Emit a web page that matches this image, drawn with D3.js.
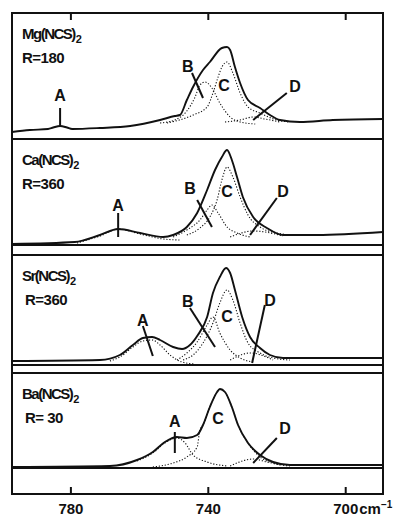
<!DOCTYPE html>
<html>
<head>
<meta charset="utf-8">
<script src="https://cdn.jsdelivr.net/npm/d3@7"></script>
<style>
  html, body { margin: 0; padding: 0; background: #fff; }
  svg { display: block; }
  text { font-family: "Liberation Sans", Arial, sans-serif; fill: #111; }
</style>
</head>
<body>
<svg id="chart" width="396" height="518"></svg>
<script>
// Wavenumber axis (cm^-1), reversed: high wavenumbers on the left
const axisTicks = [780, 740, 700];
const wnDomain = [797, 689];

// ---- Mg(NCS)2, R = 180 ----  [wavenumber, intensity]
const mgTotal = [[797,7],[791.8,9],[786.5,10],[785,11.5],[783,13],[781,11.5],[779.5,10],[771.4,11],[762.6,13],[753.9,19],[749.6,23],[748.1,24],[746.1,39],[744.3,52],[741.4,69],[739.4,77],[735.9,91],[734.4,92],[733.5,89],[732.1,72],[730.6,56],[728.3,39],[724.8,31],[721.9,24],[719,19],[713.2,17],[703.6,19],[689,20]];
const mgB = [[753.9,16],[749.6,19],[746.1,28],[743.7,42],[742.3,54],[740.8,57],[738.8,51],[736.5,36],[733.5,22],[730.6,17],[726.2,15]];
const mgC = [[751.9,16],[744.3,24],[740.2,32],[738.5,46],[737,62],[735.9,72],[734.4,77],[732.7,66],[730.6,46],[728.3,32],[724.8,26],[719.9,19],[716.1,17]];
const mgD = [[735,17],[730.6,19],[726.8,22],[723.4,20],[719,17]];

// ---- Ca(NCS)2, R = 360 ----
const caTotal = [[797,1],[778.7,3],[771.4,10],[766.1,16],[759.7,12],[753,8],[750.1,10],[746.1,18],[743.1,32],[740.2,55],[737.9,75],[735.9,88],[734.4,95],[733,85],[731.5,68],[729.8,48],[726.8,28],[722.8,17],[718.1,10],[708.2,10],[689,13]];
const caA = [[778.1,2],[771.4,9],[766.1,16],[759.7,11],[753,6],[748.1,5]];
const caB = [[750.1,8],[746.1,15],[742.3,25],[740.2,35],[738.8,40],[737,32],[734.4,18],[731.5,12],[727.7,8]];
const caC = [[746.1,10],[742.3,17],[739.4,28],[737.3,45],[735.9,65],[734.4,78],[732.7,68],[730.6,48],[728.3,30],[724.8,18],[719.9,12],[716.1,10]];
const caD = [[733.5,8],[726.8,14],[718.1,9]];

// ---- Sr(NCS)2, R = 360 ----
const srTotal = [[797,4],[771.4,5],[765.6,10],[761.8,20],[758.9,27],[756.2,28],[753.9,25],[750.1,18],[747.5,16],[745.2,20],[742.9,30],[740.2,48],[738.5,72],[736.5,88],[734.7,97],[733.5,92],[732.1,75],[730,48],[727.7,28],[724.8,17],[721.9,10],[718.1,7],[689,7]];
const srA = [[768.5,4],[765.6,8],[761.8,18],[758.9,24],[756.2,25],[753.9,20],[751,10],[747.5,3],[743.7,1]];
const srB = [[749,5],[746.1,12],[743.1,23],[740.2,40],[738.5,48],[736.5,32],[733.5,15],[730.6,7],[726.8,3]];
const srC = [[747.2,5],[744.3,10],[741.4,22],[738.5,42],[736.5,62],[734.4,75],[732.7,65],[730.6,42],[728.3,22],[724.8,12],[721,7],[716.1,5]];
const srD = [[733.5,5],[727.7,12],[721,5]];

// ---- Ba(NCS)2, R = 30 ----
const baTotal = [[797,1],[768.5,2],[760.6,8],[756,16],[752.5,26],[749,31],[746.1,30],[743.1,33],[741.4,43],[739.4,61],[737.3,76],[736.5,79],[735,76],[733,61],[731.2,43],[728.3,25],[724.8,13],[721,6],[716.1,3],[689,3]];
const baA = [[760.6,7],[756,15],[752.5,25],[749,30],[746.6,25],[744.3,13],[740.2,6],[734.4,2]];
const baC = [[756,1],[750.1,5],[746.1,11],[743.1,21],[742.3,38],[741.4,43],[739.4,61],[737.3,76],[736.5,79],[735,76],[733,61],[731.2,43],[728.3,25],[724.8,11],[721,5],[716.1,2]];
const baD = [[733.5,2],[726.8,9],[722.8,6],[719,3]];

// Band labels: [letter, label wn, label intensity, pointer wn1, int1, wn2, int2]
const mgLabels = [["A",783,42,783,31,783,13],["B",745.8,71,744.6,66,741.4,41],["C",735.3,52,null],["D",714.6,51,717,46,726.8,19]];
const caLabels = [["A",766.1,38,766.1,32,766.1,8],["B",745.2,55,743.1,45,738.8,18],["C",734.4,52,null],["D",718.1,52,719.9,47,727.7,10]];
const srLabels = [["A",758.9,43,758.9,39,756,9],["B",745.8,62,745.2,57,737.9,18],["C",734.4,47,null],["D",721.9,63,723.4,60,727.1,2]];
const baLabels = [["A",749.6,45,749.6,36,749.6,15],["C",737,48,null],["D",717.5,38,719.9,30,726.8,5]];

const panelNames = ["Mg(NCS)", "Ca(NCS)", "Sr(NCS)", "Ba(NCS)"];
const panelR = ["R=180", "R=360", "R=360", "R= 30"];

// ---------- layout ----------
const frameL = 12, frameR = 383, frameT = 13, frameB = 494;
const panels = [
  { top: 13,  zero: 139, total: mgTotal, comps: [mgB, mgC, mgD], labels: mgLabels },
  { top: 139, zero: 245, total: caTotal, comps: [caA, caB, caC, caD], labels: caLabels },
  { top: 255, zero: 365, total: srTotal, comps: [srA, srB, srC, srD], labels: srLabels },
  { top: 373, zero: 468, total: baTotal, comps: [baA, baC, baD], labels: baLabels }
];
const dividers = [139, 255, 373];

const svg = d3.select("#chart");
const x = d3.scaleLinear().domain(wnDomain).range([frameL, frameR]);

// frame
svg.append("rect").attr("x", frameL).attr("y", frameT)
  .attr("width", frameR - frameL).attr("height", frameB - frameT)
  .attr("fill", "none").attr("stroke", "#111").attr("stroke-width", 2);

dividers.forEach(d => svg.append("line")
  .attr("x1", frameL).attr("x2", frameR).attr("y1", d).attr("y2", d)
  .attr("stroke", "#111").attr("stroke-width", 2));

panels.forEach((p, i) => {
  const y = d3.scaleLinear().domain([0, 100]).range([p.zero, p.zero - 100]);
  const g = svg.append("g");
  const line = d3.line().x(d => x(d[0])).y(d => y(d[1])).curve(d3.curveMonotoneX);

  // zero line
  g.append("line").attr("x1", frameL).attr("x2", frameR)
    .attr("y1", y(0)).attr("y2", y(0))
    .attr("stroke", "#111").attr("stroke-width", 1.8);

  // component bands (dotted)
  p.comps.forEach(c => g.append("path").datum(c).attr("d", line)
    .attr("fill", "none").attr("stroke", "#111").attr("stroke-width", 1.1)
    .attr("stroke-dasharray", "1.2,1.8"));

  // observed band envelope
  g.append("path").datum(p.total).attr("d", line)
    .attr("fill", "none").attr("stroke", "#111").attr("stroke-width", 1.9)
    .attr("stroke-linejoin", "round");

  // band labels and pointers
  p.labels.forEach(l => {
    g.append("text").attr("x", x(l[1])).attr("y", y(l[2]))
      .attr("text-anchor", "middle").attr("dominant-baseline", "middle")
      .attr("font-size", 16).attr("font-weight", "bold").text(l[0]);
    if (l[3] !== null) {
      g.append("line").attr("x1", x(l[3])).attr("y1", y(l[4]))
        .attr("x2", x(l[5])).attr("y2", y(l[6]))
        .attr("stroke", "#111").attr("stroke-width", 2);
    }
  });

  // compound name and ratio
  const t = g.append("text").attr("x", 22).attr("y", p.top + 26)
    .attr("font-size", 15).attr("font-weight", "bold");
  t.append("tspan").attr("letter-spacing", -1.5).text(panelNames[i]);
  t.append("tspan").attr("dy", 4).attr("dx", 1).attr("font-size", 11).text("2");
  g.append("text").attr("x", i === 0 || i === 1 ? 22 : 25).attr("y", p.top + 50)
    .attr("font-size", 15).attr("font-weight", "bold").attr("letter-spacing", -0.5).text(panelR[i]);
});

// top ticks (inward)
svg.append("g").attr("transform", `translate(0,${frameT})`)
  .call(d3.axisTop(x).tickValues(axisTicks).tickSize(-7).tickFormat(""))
  .call(a => a.select(".domain").remove())
  .selectAll("line").attr("stroke", "#111").attr("stroke-width", 2);

// bottom axis with inward ticks
const ax = svg.append("g").attr("transform", `translate(0,${frameB})`)
  .call(d3.axisBottom(x).tickValues(axisTicks).tickSize(-7).tickPadding(9).tickFormat(d3.format("d")));
ax.select(".domain").remove();
ax.selectAll("line").attr("stroke", "#111").attr("stroke-width", 2);
ax.selectAll("text").attr("font-size", 15).attr("font-weight", "bold")
  .attr("font-family", "\"Liberation Sans\", Arial, sans-serif").attr("fill", "#111");
const unit = svg.append("text").attr("x", x(700) + 14).attr("y", frameB + 20)
  .attr("font-size", 15).attr("font-weight", "bold");
unit.append("tspan").text("cm");
unit.append("tspan").attr("dy", -6).attr("font-size", 10).text("−1");
</script>
</body>
</html>
